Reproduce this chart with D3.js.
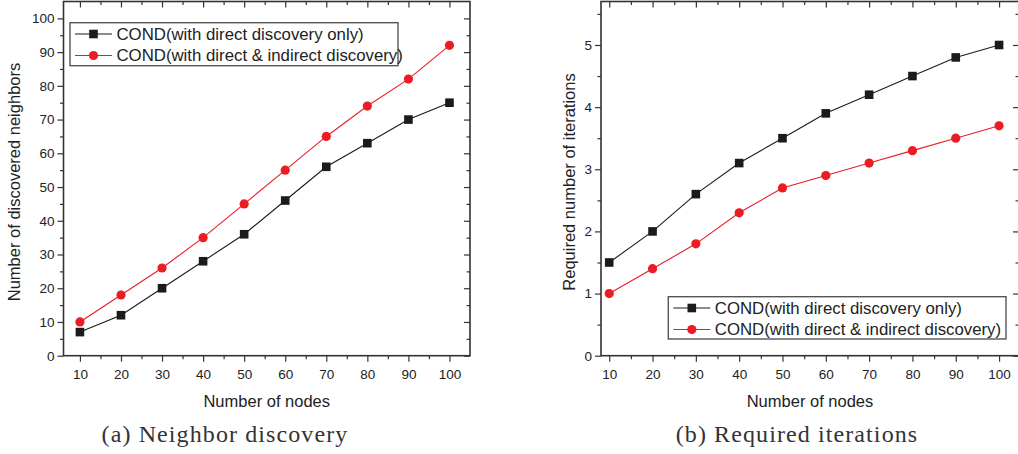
<!DOCTYPE html>
<html>
<head>
<meta charset="utf-8">
<script src="https://cdn.jsdelivr.net/npm/d3@7"></script>
<style>
  body { margin: 0; background: #fff; }
  svg { display: block; }
  .tick text { font-family: "Liberation Sans", Arial, sans-serif; font-size: 13.5px; fill: #222; }
  .tick line { stroke: #333; stroke-width: 1.2; }
  .axis-title { font-family: "Liberation Sans", Arial, sans-serif; font-size: 16.5px; fill: #222; }
  .legend-text { font-family: "Liberation Sans", Arial, sans-serif; font-size: 16.8px; fill: #222; }
  .caption { font-family: "Liberation Serif", "Times New Roman", serif; font-size: 24px; fill: #333; letter-spacing: 1.1px; }
</style>
</head>
<body>
<div id="chart"></div>
<script>
/* DATA */
const nodes = [10, 20, 30, 40, 50, 60, 70, 80, 90, 100];
const seriesNames = ["COND(with direct discovery only)", "COND(with direct & indirect discovery)"];

// (a) neighbor discovery
const neighborsDirect = [7, 12, 20, 28, 36, 46, 56, 63, 70, 75];
const neighborsIndirect = [10, 18, 26, 35, 45, 55, 65, 74, 82, 92];
const neighborTicks = [0, 10, 20, 30, 40, 50, 60, 70, 80, 90, 100];

// (b) required iterations
const iterDirect = [1.5, 2.0, 2.6, 3.1, 3.5, 3.9, 4.2, 4.5, 4.8, 5.0];
const iterIndirect = [1.0, 1.4, 1.8, 2.3, 2.7, 2.9, 3.1, 3.3, 3.5, 3.7];
const iterTicks = [0, 1, 2, 3, 4, 5];

/* CONSTANTS */
const width = 1018,
  height = 454,
  plotTop = 1.5,
  plotBottom = 355.7,
  black = "#1b1b1b",
  red = "#ec1c24";

const svg = d3.select("#chart")
  .append("svg")
  .attr("width", width)
  .attr("height", height);

drawPanel({
  left: 63.5, right: 470,
  xDomain: [6, 105], yDomain: [0, 105],
  yTicks: neighborTicks, yMinorStep: 5,
  direct: neighborsDirect, indirect: neighborsIndirect,
  yTitle: "Number of discovered neighbors", yTitleX: 20,
  caption: "(a) Neighbor discovery", captionX: 225,
  legend: { x: 70, y: 22.7, w: 328, h: 43 }
});

drawPanel({
  left: 601, right: 1019,
  xDomain: [8.1, 104.6], yDomain: [0, 5.7],
  yTicks: iterTicks, yMinorStep: 0.5,
  direct: iterDirect, indirect: iterIndirect,
  yTitle: "Required number of iterations", yTitleX: 575,
  caption: "(b) Required iterations", captionX: 797,
  legend: { x: 668.3, y: 296.7, w: 337.7, h: 42.3 }
});

function drawPanel(p) {
  const g = svg.append("g");

  const xScale = d3.scaleLinear().domain(p.xDomain).range([p.left, p.right]);
  const yScale = d3.scaleLinear().domain(p.yDomain).range([plotBottom, plotTop]);

  const xMinor = d3.range(5, 106, 5).filter(v => v > p.xDomain[0] && v < p.xDomain[1] && nodes.indexOf(v) < 0);
  const yMinor = d3.range(p.yMinorStep, p.yDomain[1], p.yMinorStep * 2);

  // minor ticks (no labels)
  const minor = [
    [d3.axisBottom(xScale).tickValues(xMinor).tickSize(3.5), `translate(0,${plotBottom})`],
    [d3.axisTop(xScale).tickValues(xMinor).tickSize(-3.5), `translate(0,${plotTop})`],
    [d3.axisLeft(yScale).tickValues(yMinor).tickSize(3.5), `translate(${p.left},0)`],
    [d3.axisRight(yScale).tickValues(yMinor).tickSize(-3.5), `translate(${p.right},0)`]
  ];
  minor.forEach(([ax, tr]) => {
    g.append("g").attr("transform", tr).call(ax.tickFormat("")).call(s => s.select(".domain").remove());
  });

  // major ticks
  g.append("g")
    .attr("transform", `translate(0,${plotBottom})`)
    .call(d3.axisBottom(xScale).tickValues(nodes).tickSize(6).tickPadding(8))
    .call(s => s.select(".domain").remove());
  g.append("g")
    .attr("transform", `translate(0,${plotTop})`)
    .call(d3.axisTop(xScale).tickValues(nodes).tickSize(-6).tickFormat(""))
    .call(s => s.select(".domain").remove());
  g.append("g")
    .attr("transform", `translate(${p.left},0)`)
    .call(d3.axisLeft(yScale).tickValues(p.yTicks).tickFormat(d3.format("d")).tickSize(6).tickPadding(3))
    .call(s => s.select(".domain").remove());
  g.append("g")
    .attr("transform", `translate(${p.right},0)`)
    .call(d3.axisRight(yScale).tickValues(p.yTicks).tickSize(-6).tickFormat(""))
    .call(s => s.select(".domain").remove());

  g.selectAll(".tick text").attr("fill", "#222");

  // frame
  g.append("rect")
    .attr("x", p.left).attr("y", plotTop)
    .attr("width", p.right - p.left).attr("height", plotBottom - plotTop)
    .attr("fill", "none").attr("stroke", "#333").attr("stroke-width", 1.6);

  // lines + markers
  const series = [
    { values: p.direct, color: black, shape: "square" },
    { values: p.indirect, color: red, shape: "circle" }
  ];
  const line = d3.line().x((d, i) => xScale(nodes[i])).y(d => yScale(d));

  series.forEach(s => {
    g.append("path")
      .datum(s.values)
      .attr("fill", "none")
      .attr("stroke", s.color)
      .attr("stroke-width", 1.1)
      .attr("d", line);
    drawMarkers(g, s, s.values.map((v, i) => [xScale(nodes[i]), yScale(v)]));
  });

  // axis titles
  g.append("text")
    .attr("class", "axis-title")
    .attr("x", (p.left + p.right) / 2)
    .attr("y", 407)
    .attr("text-anchor", "middle")
    .text("Number of nodes");

  g.append("text")
    .attr("class", "axis-title")
    .attr("transform", `translate(${p.yTitleX},182) rotate(-90)`)
    .attr("text-anchor", "middle")
    .text(p.yTitle);

  // caption
  g.append("text")
    .attr("class", "caption")
    .attr("x", p.captionX)
    .attr("y", 442)
    .attr("text-anchor", "middle")
    .text(p.caption);

  // legend
  const lg = g.append("g").attr("transform", `translate(${p.legend.x},${p.legend.y})`);
  lg.append("rect")
    .attr("width", p.legend.w).attr("height", p.legend.h)
    .attr("fill", "#fff").attr("stroke", "#555").attr("stroke-width", 1.4);
  series.forEach((s, i) => {
    const ry = 11.3 + i * 21.5;
    lg.append("line")
      .attr("x1", 5).attr("x2", 42).attr("y1", ry).attr("y2", ry)
      .attr("stroke", s.color).attr("stroke-width", 1.1);
    drawMarkers(lg, s, [[23.5, ry]]);
    lg.append("text")
      .attr("class", "legend-text")
      .attr("x", 46.5)
      .attr("y", ry + 6)
      .text(seriesNames[i]);
  });
}

function drawMarkers(sel, s, pts) {
  if (s.shape === "square") {
    sel.selectAll(null).data(pts).join("rect")
      .attr("x", d => d[0] - 4.3).attr("y", d => d[1] - 4.3)
      .attr("width", 8.6).attr("height", 8.6)
      .attr("fill", s.color);
  } else {
    sel.selectAll(null).data(pts).join("circle")
      .attr("cx", d => d[0]).attr("cy", d => d[1])
      .attr("r", 4.6)
      .attr("fill", s.color);
  }
}
</script>
</body>
</html>
